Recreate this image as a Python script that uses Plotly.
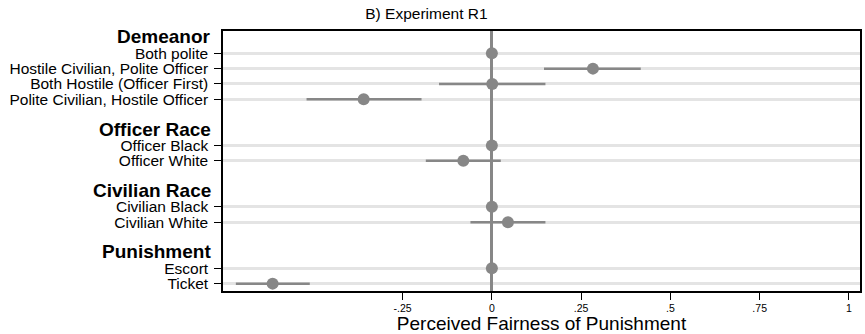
import plotly.graph_objects as go

# ---- data ----
groups = ["Demeanor", "Officer Race", "Civilian Race", "Punishment"]
group_items = [
    ["Both polite", "Hostile Civilian, Polite Officer", "Both Hostile (Officer First)", "Polite Civilian, Hostile Officer"],
    ["Officer Black", "Officer White"],
    ["Civilian Black", "Civilian White"],
    ["Escort", "Ticket"],
]
estimates = [
    [0.0, 0.283, 0.001, -0.359],
    [0.0, -0.080],
    [0.0, 0.045],
    [0.0, -0.614],
]
ci_lo = [
    [0.0, 0.146, -0.148, -0.519],
    [0.0, -0.185],
    [0.0, -0.060],
    [0.0, -0.717],
]
ci_hi = [
    [0.0, 0.417, 0.150, -0.197],
    [0.0, 0.025],
    [0.0, 0.150],
    [0.0, -0.510],
]
x_tickvals = [-0.25, 0, 0.25, 0.5, 0.75, 1]
x_ticktext = ["-.25", "0", ".25", ".5", ".75", "1"]

# ---- layout of rows ----
ys, labels, xs, lo, hi = [], [], [], [], []
header_pos = []
row = 0
for g, items, est, l, h in zip(groups, group_items, estimates, ci_lo, ci_hi):
    header_pos.append(row)
    row += 1
    for it, e, a, b in zip(items, est, l, h):
        ys.append(row)
        labels.append(it)
        xs.append(e)
        lo.append(e - a)
        hi.append(b - e)
        row += 1
    row += 1  # gap

grey = "#878787"
fig = go.Figure()
fig.add_trace(go.Scatter(
    x=xs, y=ys, mode="markers",
    marker=dict(color=grey, size=12),
    error_x=dict(type="data", symmetric=False, array=hi, arrayminus=lo,
                 color=grey, thickness=2.5, width=0),
    showlegend=False, cliponaxis=False, hoverinfo="skip",
))

for g, p in zip(groups, header_pos):
    fig.add_annotation(x=0, xref="paper", y=p, yref="y", text="<b>" + g + "</b>",
                       showarrow=False, xanchor="right", xshift=-10, yshift=1,
                       font=dict(size=19, color="black"))

fig.update_layout(
    width=865, height=334,
    margin=dict(l=223, r=5, t=31, b=43, autoexpand=False),
    paper_bgcolor="white", plot_bgcolor="white",
    font=dict(family="Liberation Sans, Arial, sans-serif", color="black"),
    title=dict(text="B) Experiment R1", x=0.493, xref="container", xanchor="center",
               y=1, yref="container", yanchor="top", pad=dict(t=8),
               font=dict(size=15.5, color="black")),
    xaxis=dict(range=[-0.753, 1.031], tickvals=x_tickvals, ticktext=x_ticktext,
               ticks="outside", ticklen=7, tickcolor="black", tickfont=dict(size=10.5),
               showgrid=False, zeroline=True, zerolinecolor=grey, zerolinewidth=2.5,
               showline=True, mirror=True, linecolor="black", linewidth=1.5,
               title=dict(text="Perceived Fairness of Punishment", font=dict(size=19), standoff=2)),
    yaxis=dict(range=[16.48, -0.45], tickvals=ys, ticktext=labels,
               ticks="outside", ticklen=7, tickcolor="black", tickfont=dict(size=15.5),
               ticklabelstandoff=3,
               showgrid=True, gridcolor="#e4e4e4", gridwidth=2.5, zeroline=False,
               showline=True, mirror=True, linecolor="black", linewidth=1.5),
)

fig.write_html("out.html", config={"displayModeBar": False},
               post_script="document.body.style.margin='0';")
